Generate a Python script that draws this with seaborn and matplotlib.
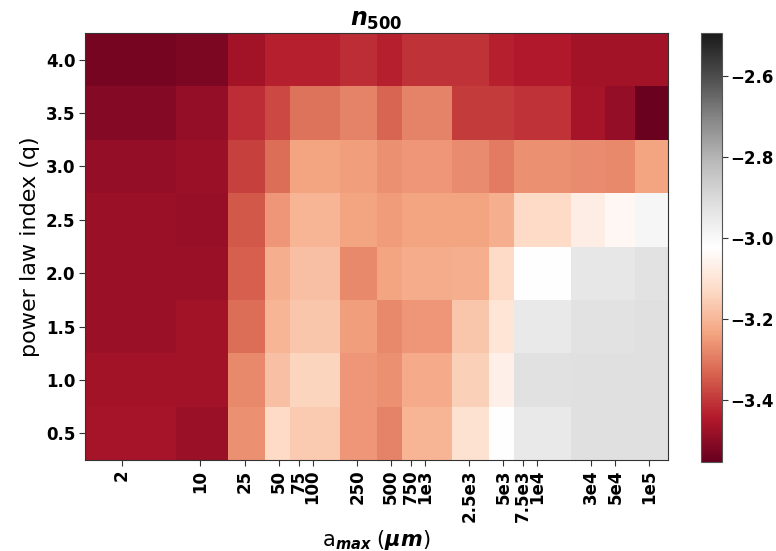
import numpy as np
import matplotlib
matplotlib.use("Agg")
import matplotlib.pyplot as plt
import seaborn as sns

# ---------------- data ----------------
a_max = [2, 10, 25, 50, 75, 100, 250, 500, 750, 1e3, 2.5e3, 5e3, 7.5e3, 1e4, 3e4, 5e4, 1e5]
a_labels = ["2", "10", "25", "50", "75", "100", "250", "500", "750", "1e3",
            "2.5e3", "5e3", "7.5e3", "1e4", "3e4", "5e4", "1e5"]
q_values = [0.5, 1.0, 1.5, 2.0, 2.5, 3.0, 3.5, 4.0]
q_labels = ["0.5", "1.0", "1.5", "2.0", "2.5", "3.0", "3.5", "4.0"]

n500_q0p5 = [-3.463, -3.479, -3.267, -3.129, -3.161, -3.161, -3.256, -3.288, -3.204, -3.204,
             -3.108, -3.024, -2.949, -2.949, -2.918, -2.918, -2.918]
n500_q1p0 = [-3.468, -3.468, -3.278, -3.182, -3.140, -3.140, -3.256, -3.267, -3.225, -3.225,
             -3.151, -3.066, -2.922, -2.922, -2.918, -2.918, -2.918]
n500_q1p5 = [-3.479, -3.468, -3.320, -3.204, -3.172, -3.172, -3.246, -3.278, -3.256, -3.256,
             -3.172, -3.098, -2.949, -2.949, -2.928, -2.928, -2.918]
n500_q2p0 = [-3.479, -3.479, -3.341, -3.214, -3.182, -3.182, -3.278, -3.235, -3.219, -3.219,
             -3.214, -3.129, -3.024, -3.024, -2.944, -2.944, -2.928]
n500_q2p5 = [-3.479, -3.484, -3.352, -3.256, -3.204, -3.204, -3.235, -3.251, -3.235, -3.235,
             -3.235, -3.214, -3.129, -3.129, -3.077, -3.045, -2.992]
n500_q3p0 = [-3.489, -3.479, -3.384, -3.320, -3.235, -3.235, -3.246, -3.267, -3.256, -3.256,
             -3.272, -3.299, -3.267, -3.267, -3.272, -3.278, -3.235]
n500_q3p5 = [-3.511, -3.489, -3.415, -3.373, -3.309, -3.309, -3.288, -3.331, -3.288, -3.288,
             -3.394, -3.394, -3.405, -3.405, -3.463, -3.489, -3.548]
n500_q4p0 = [-3.532, -3.521, -3.468, -3.437, -3.437, -3.437, -3.415, -3.437, -3.405, -3.405,
             -3.405, -3.437, -3.447, -3.447, -3.468, -3.468, -3.468]

cbar_ticks = [-3.4, -3.2, -3.0, -2.8, -2.6]
cbar_labels = ["\u22123.4", "\u22123.2", "\u22123.0", "\u22122.8", "\u22122.6"]
vmin, vmax = -3.553, -2.494

# ---------------- style ----------------
sns.set_style("ticks")
plt.rcParams["font.family"] = ["DejaVu Sans"]
plt.rcParams["mathtext.fontset"] = "custom"
plt.rcParams["mathtext.it"] = "DejaVu Sans:italic:bold"
plt.rcParams["mathtext.bf"] = "DejaVu Sans:bold"
plt.rcParams["mathtext.rm"] = "DejaVu Sans"
for k in ["text.color", "axes.labelcolor", "xtick.color", "ytick.color"]:
    plt.rcParams[k] = "black"

cmap = sns.color_palette("RdGy", as_cmap=True)

Z = np.array([n500_q0p5, n500_q1p0, n500_q1p5, n500_q2p0,
              n500_q2p5, n500_q3p0, n500_q3p5, n500_q4p0])

x = np.array(a_max, dtype=float)
mids = (x[:-1] + x[1:]) / 2.0
x_edges = np.concatenate([[x[0] * 0.4], mids, [x[-1] * 2.0]])
q = np.array(q_values)
q_edges = np.concatenate([[q[0] - 0.25], (q[:-1] + q[1:]) / 2.0, [q[-1] + 0.25]])

fig = plt.figure(figsize=(7.76, 5.51), dpi=100)
ax = fig.add_axes([85 / 776, 1 - 460 / 551, 583 / 776, 427 / 551])
cax = fig.add_axes([701 / 776, 1 - 462 / 551, 21 / 776, 429 / 551])

mesh = ax.pcolormesh(x_edges, q_edges, Z, cmap=cmap, vmin=vmin, vmax=vmax, shading="flat")
ax.set_xscale("log")
ax.set_xlim(0.935, 1.47e5)
ax.set_ylim(q_edges[0], q_edges[-1])

ax.set_xticks(a_max)
ax.xaxis.set_minor_locator(matplotlib.ticker.NullLocator())
ax.set_xticklabels(a_labels, rotation=90, fontsize=12, fontweight="bold")
ax.set_yticks(q_values)
ax.set_yticklabels(q_labels, fontsize=12, fontweight="bold")
ax.tick_params(axis="both", direction="out", length=4, width=0.8, color="#333333", pad=3)

for sp in ax.spines.values():
    sp.set_visible(True)
    sp.set_color("#333333")
    sp.set_linewidth(0.8)

ax.set_ylabel("power law index (q)", fontsize=16)
ax.set_xlabel(r"a$_{max}$ ($\mu m$)", fontsize=15)
ax.set_title(r"$n_{\mathbf{500}}$", fontsize=17, pad=5)

cb = fig.colorbar(mesh, cax=cax, ticks=cbar_ticks)
cb.ax.set_yticklabels(cbar_labels, fontsize=12, fontweight="bold")
cb.ax.tick_params(direction="out", length=4, width=0.8, color="#333333", pad=2)
cb.outline.set_edgecolor("#555555")
cb.outline.set_linewidth(0.8)

fig.savefig("out.png", dpi=100)
